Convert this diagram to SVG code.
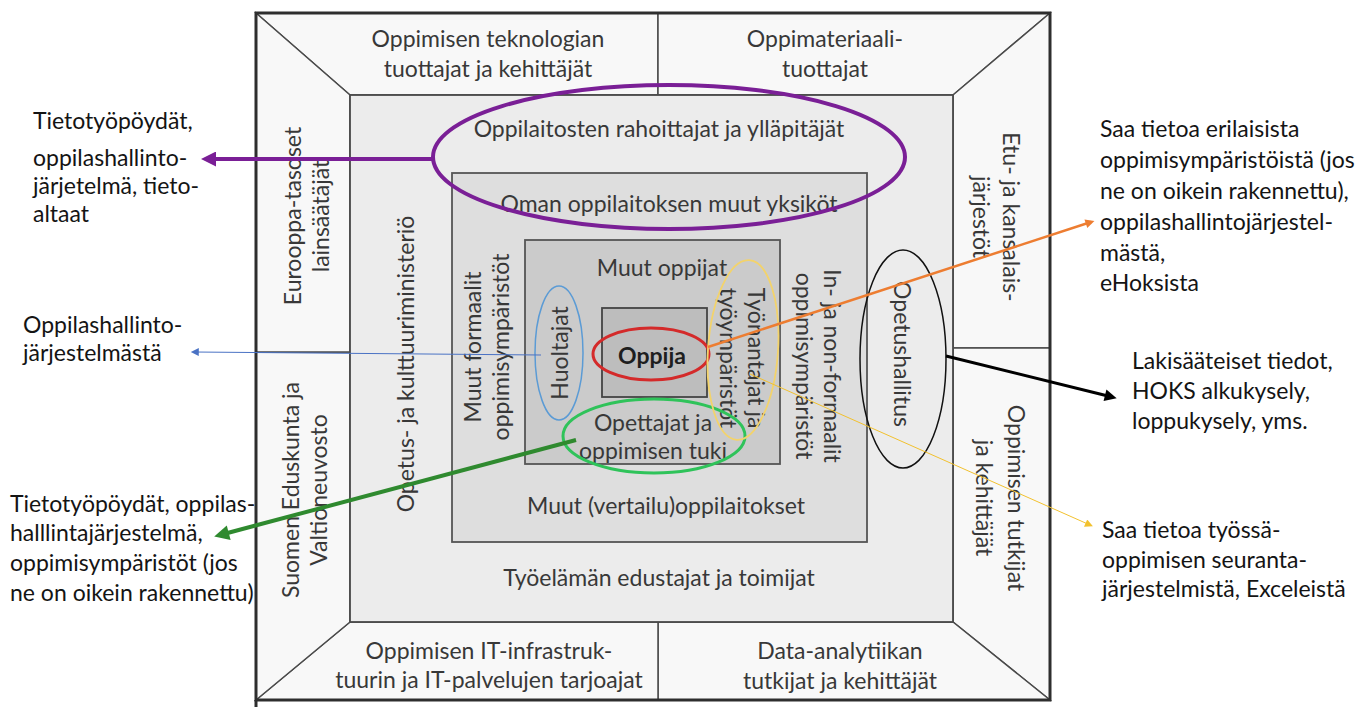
<svg xmlns="http://www.w3.org/2000/svg" width="1372" height="707" viewBox="0 0 1372 707">
<style>
.bg{fill:#ffffff}
.trap{fill:#f8f8f8;stroke:#4a4a4a;stroke-width:1.5}
.l1{fill:#ececec;stroke:#4a4a4a;stroke-width:1.8}
.l2{fill:#dedede;stroke:#555;stroke-width:1.8}
.l3{fill:#cbcbcb;stroke:#555;stroke-width:1.8}
.l4{fill:#bdbdbd;stroke:#444;stroke-width:1.8}
.t{font-family:Lato,"Liberation Sans",sans-serif;font-size:23px;fill:#383838;text-anchor:middle;dominant-baseline:central}
.b{font-weight:bold;fill:#1e1e1e}
.a{font-family:Lato,"Liberation Sans",sans-serif;font-size:23px;fill:#141414;text-anchor:start;dominant-baseline:central}
.ell{fill:none}
</style>
<defs>
<marker id="ah-purple" viewBox="0 0 10 10" refX="6" refY="5" markerWidth="18" markerHeight="15" orient="auto" markerUnits="userSpaceOnUse"><path d="M0,0 L10,5 L0,10 z" fill="#7a1f96"/></marker>
<marker id="ah-green" viewBox="0 0 10 10" refX="6" refY="5" markerWidth="18" markerHeight="15" orient="auto" markerUnits="userSpaceOnUse"><path d="M0,0 L10,5 L0,10 z" fill="#2f8a2f"/></marker>
<marker id="ah-black" viewBox="0 0 10 10" refX="6" refY="5" markerWidth="14" markerHeight="12" orient="auto" markerUnits="userSpaceOnUse"><path d="M0,0 L10,5 L0,10 z" fill="#000"/></marker>
<marker id="ah-orange" viewBox="0 0 10 10" refX="6" refY="5" markerWidth="11" markerHeight="9" orient="auto" markerUnits="userSpaceOnUse"><path d="M0,0 L10,5 L0,10 z" fill="#ed7d31"/></marker>
<marker id="ah-blue" viewBox="0 0 10 10" refX="6" refY="5" markerWidth="10" markerHeight="8" orient="auto" markerUnits="userSpaceOnUse"><path d="M0,0 L10,5 L0,10 z" fill="#4a72c4"/></marker>
<marker id="ah-yellow" viewBox="0 0 10 10" refX="6" refY="5" markerWidth="10" markerHeight="8" orient="auto" markerUnits="userSpaceOnUse"><path d="M0,0 L10,5 L0,10 z" fill="#f2c12e"/></marker>
</defs>
<rect class="bg" x="0" y="0" width="1372" height="707"/>

<g id="outer-frame">
<g id="node-tech-producers">
<polygon class="trap" points="256,13 658,13 658,95 350,95"/>
<text class="t" x="488" y="38">Oppimisen teknologian</text>
<text class="t" x="488" y="68">tuottajat ja kehittäjät</text>
</g>
<g id="node-material-producers">
<polygon class="trap" points="658,13 1050,13 953,95 658,95"/>
<text class="t" x="825" y="38">Oppimateriaali-</text>
<text class="t" x="825" y="68">tuottajat</text>
</g>
<g id="node-associations">
<polygon class="trap" points="1050,13 1050,348 953,348 953,95"/>
<text class="t" transform="translate(997,217) rotate(90)"><tspan x="0" y="-15">Etu- ja kansalais-</tspan><tspan x="0" y="15">järjestöt</tspan></text>
</g>
<g id="node-researchers">
<polygon class="trap" points="953,348 1050,348 1050,700 953,622"/>
<text class="t" transform="translate(1001,498) rotate(90)"><tspan x="0" y="-16">Oppimisen tutkijat</tspan><tspan x="0" y="16">ja kehittäjät</tspan></text>
</g>
<g id="node-data-analytics">
<polygon class="trap" points="658,622 953,622 1050,700 658,700"/>
<text class="t" x="840" y="650">Data-analytiikan</text>
<text class="t" x="840" y="680">tutkijat ja kehittäjät</text>
</g>
<g id="node-it-providers">
<polygon class="trap" points="256,700 350,622 658,622 658,700"/>
<text class="t" x="489" y="650">Oppimisen IT-infrastruk-</text>
<text class="t" x="489" y="679">tuurin ja IT-palvelujen tarjoajat</text>
</g>
<g id="node-parliament">
<polygon class="trap" points="256,352 350,352 350,622 256,700"/>
<text class="t" transform="translate(304,490) rotate(-90)"><tspan x="0" y="-14">Suomen Eduskunta ja</tspan><tspan x="0" y="14">Valtioneuvosto</tspan></text>
</g>
<g id="node-eu-legislators">
<polygon class="trap" points="256,13 350,95 350,352 256,352"/>
<text class="t" transform="translate(306,216) rotate(-90)"><tspan x="0" y="-14">Eurooppa-tasoset</tspan><tspan x="0" y="14">lainsäätäjät</tspan></text>
</g>
<rect x="256" y="13" width="794" height="687" fill="none" stroke="#2e2e2e" stroke-width="3"/>
<line x1="256" y1="700" x2="256" y2="707" stroke="#2e2e2e" stroke-width="3"/>
</g>

<g id="node-level1">
<rect class="l1" x="350" y="95" width="603" height="527"/>
<text class="t" x="659" y="128">Oppilaitosten rahoittajat ja ylläpitäjät</text>
<text class="t" x="659" y="577">Työelämän edustajat ja toimijat</text>
<text class="t" transform="translate(405,364) rotate(-90)">Opetus- ja kulttuuriministeriö</text>
<text class="t" transform="translate(903,354) rotate(90)">Opetushallitus</text>
</g>

<g id="node-level2">
<rect class="l2" x="452" y="173" width="415" height="369"/>
<text class="t" x="669" y="203">Oman oppilaitoksen muut yksiköt</text>
<text class="t" x="666" y="505">Muut (vertailu)oppilaitokset</text>
<text class="t" transform="translate(486,347) rotate(-90)"><tspan x="0" y="-14">Muut formaalit</tspan><tspan x="0" y="14">oppimisympäristöt</tspan></text>
<text class="t" transform="translate(819,366) rotate(90)"><tspan x="0" y="-14">In- ja non-formaalit</tspan><tspan x="0" y="14">oppimisympäristöt</tspan></text>
</g>

<g id="node-level3">
<rect class="l3" x="525" y="240" width="255" height="224"/>
<text class="t" x="662" y="267">Muut oppijat</text>
<text class="t" x="653" y="422">Opettajat ja</text>
<text class="t" x="653" y="450">oppimisen tuki</text>
<text class="t" transform="translate(559,353) rotate(-90)">Huoltajat</text>
<text class="t" transform="translate(743,358) rotate(90)"><tspan x="0" y="-14">Työnantajat ja</tspan><tspan x="0" y="14">työympäristöt</tspan></text>
</g>

<g id="node-oppija">
<rect class="l4" x="602" y="308" width="105" height="89"/>
<text class="t b" x="652" y="355">Oppija</text>
</g>

<g id="highlights">
<ellipse id="ring-funders" class="ell" cx="669" cy="157" rx="236" ry="72" stroke="#7a1f96" stroke-width="4"/>
<ellipse id="ring-oppija" class="ell" cx="651" cy="354" rx="58" ry="26" stroke="#d42a2a" stroke-width="3"/>
<ellipse id="ring-teachers" class="ell" cx="654" cy="436" rx="91" ry="37" stroke="#2fc35a" stroke-width="3"/>
<ellipse id="ring-guardians" class="ell" cx="559" cy="353" rx="24" ry="67" stroke="#5b9bd5" stroke-width="1.5"/>
<ellipse id="ring-employers" class="ell" cx="743" cy="350" rx="35" ry="90" transform="rotate(4 743 350)" stroke="#f3d36b" stroke-width="1.8"/>
<ellipse id="ring-oph" class="ell" cx="903" cy="359" rx="43" ry="109" stroke="#111" stroke-width="1.5"/>
</g>

<g id="connectors">
<line x1="433" y1="159" x2="207" y2="159" stroke="#7a1f96" stroke-width="4" marker-end="url(#ah-purple)"/>
<line x1="541" y1="355" x2="194" y2="352" stroke="#4a72c4" stroke-width="1" marker-end="url(#ah-blue)"/>
<line x1="576" y1="440" x2="220" y2="535" stroke="#2f8a2f" stroke-width="4" marker-end="url(#ah-green)"/>
<line x1="708" y1="347" x2="1091" y2="222" stroke="#ed7d31" stroke-width="2.5" marker-end="url(#ah-orange)"/>
<line x1="946" y1="356" x2="1112" y2="397" stroke="#000" stroke-width="3" marker-end="url(#ah-black)"/>
<line x1="750" y1="374" x2="1090" y2="525" stroke="#f2c12e" stroke-width="1" marker-end="url(#ah-yellow)"/>
</g>

<g id="annotations">
<g id="note-funders">
<text class="a" x="33" y="120">Tietotyöpöydät,</text>
<text class="a" x="33" y="157">oppilashallinto-</text>
<text class="a" x="33" y="185">järjetelmä, tieto-</text>
<text class="a" x="33" y="213">altaat</text>
</g>
<g id="note-guardians">
<text class="a" x="23" y="324">Oppilashallinto-</text>
<text class="a" x="23" y="352">järjestelmästä</text>
</g>
<g id="note-teachers">
<text class="a" x="10" y="503">Tietotyöpöydät, oppilas-</text>
<text class="a" x="10" y="532">halllintajärjestelmä,</text>
<text class="a" x="10" y="562">oppimisympäristöt (jos</text>
<text class="a" x="10" y="592">ne on oikein rakennettu)</text>
</g>
<g id="note-oppija">
<text class="a" x="1100" y="128">Saa tietoa erilaisista</text>
<text class="a" x="1100" y="159">oppimisympäristöistä (jos</text>
<text class="a" x="1100" y="190">ne on oikein rakennettu),</text>
<text class="a" x="1100" y="221">oppilashallintojärjestel-</text>
<text class="a" x="1100" y="252">mästä,</text>
<text class="a" x="1100" y="282">eHoksista</text>
</g>
<g id="note-oph">
<text class="a" x="1132" y="360">Lakisääteiset tiedot,</text>
<text class="a" x="1132" y="390">HOKS alkukysely,</text>
<text class="a" x="1132" y="420">loppukysely, yms.</text>
</g>
<g id="note-employers">
<text class="a" x="1102" y="529">Saa tietoa työssä-</text>
<text class="a" x="1102" y="559">oppimisen seuranta-</text>
<text class="a" x="1102" y="588">järjestelmistä, Exceleistä</text>
</g>
</g>
</svg>
